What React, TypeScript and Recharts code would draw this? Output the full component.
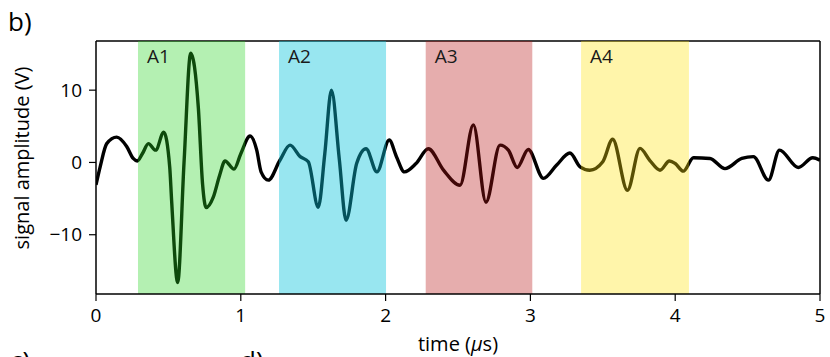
import { Label, Line, LineChart, ReferenceArea, ReferenceLine, XAxis, YAxis } from "recharts";

const times = [
  0.0, 0.03, 0.074, 0.143, 0.212, 0.257, 0.285, 0.32, 0.362, 0.412, 0.468, 0.509, 0.522, 0.564, 0.608, 0.654,
  0.707, 0.736, 0.76, 0.81, 0.854, 0.891, 0.953, 1.0, 1.064, 1.11, 1.14, 1.19, 1.27, 1.34, 1.41, 1.466, 1.535,
  1.58, 1.626, 1.68, 1.727, 1.8, 1.865, 1.94, 2.025, 2.075, 2.13, 2.21, 2.295, 2.4, 2.514, 2.606, 2.693, 2.79,
  2.848, 2.909, 2.985, 3.09, 3.18, 3.273, 3.343, 3.41, 3.5, 3.568, 3.67, 3.757, 3.824, 3.895, 3.96, 4.0, 4.056,
  4.126, 4.24, 4.344, 4.46, 4.54, 4.644, 4.72, 4.85, 4.95, 5.0
];

const amplitude = [
  -3.1, -0.5, 2.6, 3.5, 2.2, 0.55, 0.2, 1.2, 2.6, 1.7, 4.2, -0.6, -5.2, -16.6, 0, 15.1,
  7.5, -3, -6.25, -4.8, -1.76, 0.2, -0.93, 1.2, 3.65, 1.7, -1.3, -2.45, 0.3, 2.4, 0.8, 0.1, -6.2,
  1.2, 10.0, 0.5, -8.0, -0.15, 1.9, -1.3, 3.1, 0.8, -1.3, -0.15, 1.9, -1.07, -3.15, 5.2, -5.5, 2.4,
  1.7, -0.7, 1.8, -2.2, -0.4, 1.3, -0.6, -1.07, 0.1, 3.2, -3.85, 1.94, 0.3, -1.07, 0.2, -0.15, -1.2,
  0.65, 0.55, -0.85, 0.55, 0.8, -2.45, 1.7, -0.7, 0.65, 0.3
];

const regionNames = ["A1", "A2", "A3", "A4"];
const regionStart = [0.29, 1.264, 2.277, 3.35];
const regionEnd = [1.03, 2.003, 3.013, 4.095];
const regionColors = ["#29d423", "#0ac3db", "#b71515", "#ffe20c"];
const regionOpacity = [0.35, 0.42, 0.35, 0.35];

const xTicks = [0, 1, 2, 3, 4, 5];
const yTicks = [-10, 0, 10];
const yDomain: [number, number] = [-18.2, 16.8];

const font = '"Open Sans", sans-serif';

const data = times.map((t, i) => ({ t, v: amplitude[i] }));

const fmtY = (v: number) => (v < 0 ? `\u2212${Math.abs(v)}` : String(v));

export default function App() {
  return (
    <div style={{ position: "absolute", left: 0, top: 0, width: 830, height: 357, background: "#fff", fontFamily: font }}>
      <LineChart width={830} height={357} data={data} margin={{ top: 41, right: 10, bottom: 33, left: 36 }}>
        <XAxis
          dataKey="t"
          type="number"
          domain={[0, 5]}
          ticks={xTicks}
          allowDataOverflow
          height={30}
          tickSize={7}
          tickMargin={8}
          axisLine={{ stroke: "#000", strokeWidth: 1.5 }}
          tickLine={{ stroke: "#000", strokeWidth: 1.2 }}
          tick={{ fill: "#000", fontSize: 19, fontFamily: font }}
        >
          <Label
            content={() => (
              <text x={458} y={351} textAnchor="middle" fontSize={20} fontFamily={font} fill="#000">
                time (<tspan fontStyle="italic">µ</tspan>s)
              </text>
            )}
          />
        </XAxis>
        <YAxis
          type="number"
          domain={yDomain}
          ticks={yTicks}
          allowDataOverflow
          width={60}
          tickSize={7}
          tickMargin={7}
          tickFormatter={fmtY}
          axisLine={{ stroke: "#000", strokeWidth: 1.5 }}
          tickLine={{ stroke: "#000", strokeWidth: 1.2 }}
          tick={{ fill: "#000", fontSize: 19, fontFamily: font }}
        >
          <Label
            content={() => (
              <text
                x={21}
                y={158}
                transform="rotate(-90 21 158)"
                textAnchor="middle"
                dominantBaseline="central"
                fontSize={20}
                fontFamily={font}
                fill="#000"
              >
                signal amplitude (V)
              </text>
            )}
          />
        </YAxis>
        <Line
          dataKey="v"
          type="monotone"
          stroke="#000"
          strokeWidth={3.4}
          strokeLinejoin="round"
          dot={false}
          isAnimationActive={false}
        />
        {regionNames.map((name, i) => (
          <ReferenceArea
            key={name}
            x1={regionStart[i]}
            x2={regionEnd[i]}
            y1={yDomain[0]}
            y2={yDomain[1]}
            fill={regionColors[i]}
            fillOpacity={regionOpacity[i]}
            stroke="none"
            zIndex={450}
            label={{ value: name, position: "insideTopLeft", offset: 9, fontSize: 19, fill: "#1a1a1a", fontFamily: font }}
          />
        ))}
        <ReferenceLine y={yDomain[1]} stroke="#000" strokeWidth={1.5} />
        <ReferenceLine x={5} stroke="#000" strokeWidth={1.5} />
      </LineChart>
      <svg
        width={830}
        height={357}
        style={{ position: "absolute", left: 0, top: 0, pointerEvents: "none", overflow: "hidden" }}
      >
        <text x={8} y={31} fontSize={26} fontFamily={font} fill="#000">b)</text>
        <text x={10} y={370} fontSize={26} fontFamily={font} fill="#000">c)</text>
        <text x={240} y={370} fontSize={26} fontFamily={font} fill="#000">d)</text>
      </svg>
    </div>
  );
}
